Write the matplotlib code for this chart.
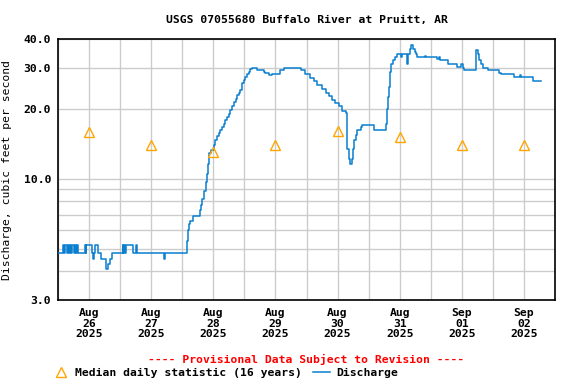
import pandas as pd
import matplotlib
matplotlib.use('Agg')
import matplotlib.pyplot as plt
import matplotlib.dates as mdates
from matplotlib.lines import Line2D
from matplotlib.ticker import FixedLocator, FixedFormatter, NullFormatter

# discharge readings: hours after 2025-08-26 00:00, value in cfs (stepped)
hours = [0.0, 2.0, 2.4, 2.8, 3.4, 3.7, 4.3, 4.6, 5.0, 5.3, 6.0, 6.4, 7.0, 7.3, 7.6,
         10.4, 10.7, 11.0, 13.0, 13.6, 13.9, 14.3, 15.6, 16.6, 18.6, 19.5, 20.2, 20.8,
         25.0, 25.3, 25.6, 25.9, 26.2, 28.9, 30.3, 30.6, 40.8, 41.3,
         49.8, 50.2, 50.5, 51.0, 52.1, 54.7, 55.2, 55.8, 56.5, 57.1, 57.6, 58.1, 58.5,
         59.1, 60.1, 60.8, 61.5, 62.1, 62.7, 63.4, 64.0, 64.6, 65.3, 66.0, 66.6, 67.3,
         67.9, 68.6, 69.2, 69.8, 70.5, 71.1, 71.8, 72.4, 73.0, 73.7, 74.3, 75.0, 76.9,
         79.5, 80.1, 81.4, 82.7, 85.9, 87.2, 93.7, 95.6, 97.5, 98.8, 100.1, 102.1,
         103.4, 104.6, 105.9, 107.2, 108.5, 109.8, 111.1, 111.7, 112.4, 112.8, 113.7,
         114.0, 114.3, 115.0, 115.6, 116.9, 117.6, 122.1, 126.6, 127.2, 127.5, 127.9,
         128.2, 128.8, 129.6, 130.1, 130.8, 132.6, 132.8, 135.0, 135.3, 136.0, 136.5,
         137.0, 137.3, 137.8, 138.3, 138.6, 141.8, 142.1, 146.6, 147.1, 147.6, 150.5,
         154.3, 155.6, 156.3, 157.0, 161.4, 161.8, 162.3, 162.7, 163.4, 164.0, 166.0,
         170.4, 171.1, 176.3, 178.6, 178.9, 183.4, 186.6]
cfs = [4.8, 5.2, 4.8, 5.2, 4.8, 5.2, 4.8, 5.2, 4.8, 5.2, 4.8, 5.2, 4.8, 5.2, 4.8,
       5.2, 4.8, 5.2, 4.8, 4.5, 4.8, 5.2, 4.8, 4.5, 4.1, 4.3, 4.5, 4.8,
       5.2, 4.8, 5.2, 4.8, 5.2, 4.8, 5.2, 4.8, 4.5, 4.8,
       5.4, 6.0, 6.4, 6.6, 6.9, 7.3, 7.7, 8.2, 8.9, 9.7, 10.5, 11.6, 12.9,
       13.3, 14.0, 14.7, 15.3, 15.7, 16.3, 16.8, 17.3, 17.9, 18.5, 19.1, 19.8, 20.6,
       21.5, 22.2, 22.9, 23.5, 24.1, 25.8, 26.6, 27.5, 28.2, 28.9, 29.9, 30.2, 29.4,
       28.9, 28.5, 28.0, 28.3, 29.4, 30.2, 29.4, 28.3, 27.2, 26.4, 25.5, 24.5,
       23.5, 22.7, 21.8, 21.3, 20.6, 19.6, 19.3, 13.5, 12.2, 11.6, 12.2,
       13.5, 14.7, 15.4, 16.2, 16.75, 17.0, 16.3, 17.3, 20.1, 22.6, 25.0,
       28.9, 31.4, 32.5, 33.6, 34.7, 33.6, 34.7, 31.4, 34.7, 36.5, 37.9,
       37.3, 36.2, 35.3, 34.4, 33.4, 33.9, 33.4, 33.0, 33.4, 32.5, 31.4,
       30.4, 31.2, 30.2, 29.6, 36.0, 35.9, 34.7, 32.5, 31.4, 30.2, 29.4,
       28.7, 28.3, 27.5, 28.0, 27.4, 26.4, 26.4]

# median daily statistic, plotted at noon of each day
median_hours = [12, 36, 60, 84, 108, 132, 156, 180]
median_cfs = [16.0, 14.0, 13.1, 14.0, 16.1, 15.1, 14.0, 14.0]

ytick_vals = [3.0, 10.0, 20.0, 30.0, 40.0]
ytick_labels = ['3.0', '10.0', '20.0', '30.0', '40.0']
ygrid_vals = [4, 5, 6, 7, 8, 9]

start = pd.Timestamp('2025-08-26')
t = start + pd.to_timedelta(hours, unit='h')
tm = start + pd.to_timedelta(median_hours, unit='h')

plt.rcParams['font.family'] = 'DejaVu Sans Mono'
plt.rcParams['font.weight'] = 'bold'
fs = 8.2

fig = plt.figure(figsize=(5.76, 3.84), dpi=100)
ax = fig.add_axes([58 / 576, 1 - 300 / 384, (555 - 58) / 576, (300 - 39.3) / 384])

ax.plot(t, cfs, drawstyle='steps-post', color='#0a7fd0', lw=1.1, zorder=3)
ax.plot(tm, median_cfs, linestyle='none', marker='^', markersize=7,
        markerfacecolor='none', markeredgecolor='#ffa500', markeredgewidth=1.0, zorder=4)

ax.set_yscale('log')
ax.set_ylim(3.0, 40.0)
ax.yaxis.set_major_locator(FixedLocator(ytick_vals))
ax.yaxis.set_major_formatter(FixedFormatter(ytick_labels))
ax.yaxis.set_minor_locator(FixedLocator(ygrid_vals))
ax.yaxis.set_minor_formatter(NullFormatter())

ax.set_xlim(start, start + pd.Timedelta(days=8))
ax.xaxis.set_major_locator(mdates.DayLocator())
ax.xaxis.set_major_formatter(NullFormatter())
ax.xaxis.set_minor_locator(mdates.HourLocator(byhour=12))
ax.xaxis.set_minor_formatter(mdates.DateFormatter('%b\n%d\n%Y'))

ax.grid(True, which='both', color='#cccccc', lw=1)
ax.tick_params(which='both', length=0, labelsize=fs, pad=5)
ax.tick_params(axis='x', which='minor', pad=6)
for lab in ax.get_xticklabels(minor=True):
    lab.set_linespacing(1.05)
for sp in ax.spines.values():
    sp.set_linewidth(1.2)

ax.set_title('USGS 07055680 Buffalo River at Pruitt, AR', fontsize=fs,
             fontweight='bold', pad=12)
ax.set_ylabel('Discharge, cubic feet per second', fontsize=fs, labelpad=8)

fig.text(306 / 576, 1 - 359 / 384, '---- Provisional Data Subject to Revision ----',
         color='red', fontsize=fs, ha='center', va='center')
fig.add_artist(Line2D([60.5 / 576], [1 - 372 / 384], marker='^', markersize=7,
                      markerfacecolor='none', markeredgecolor='#ffa500',
                      markeredgewidth=1.0, linestyle='none'))
fig.text(75 / 576, 1 - 373 / 384, 'Median daily statistic (16 years)',
         fontsize=fs, ha='left', va='center')
fig.add_artist(Line2D([313 / 576, 330 / 576], [1 - 372 / 384, 1 - 372 / 384],
                      color='#0a7fd0', lw=1.1))
fig.text(336 / 576, 1 - 373 / 384, 'Discharge', fontsize=fs, ha='left', va='center')

fig.savefig('out.png', dpi=100)
